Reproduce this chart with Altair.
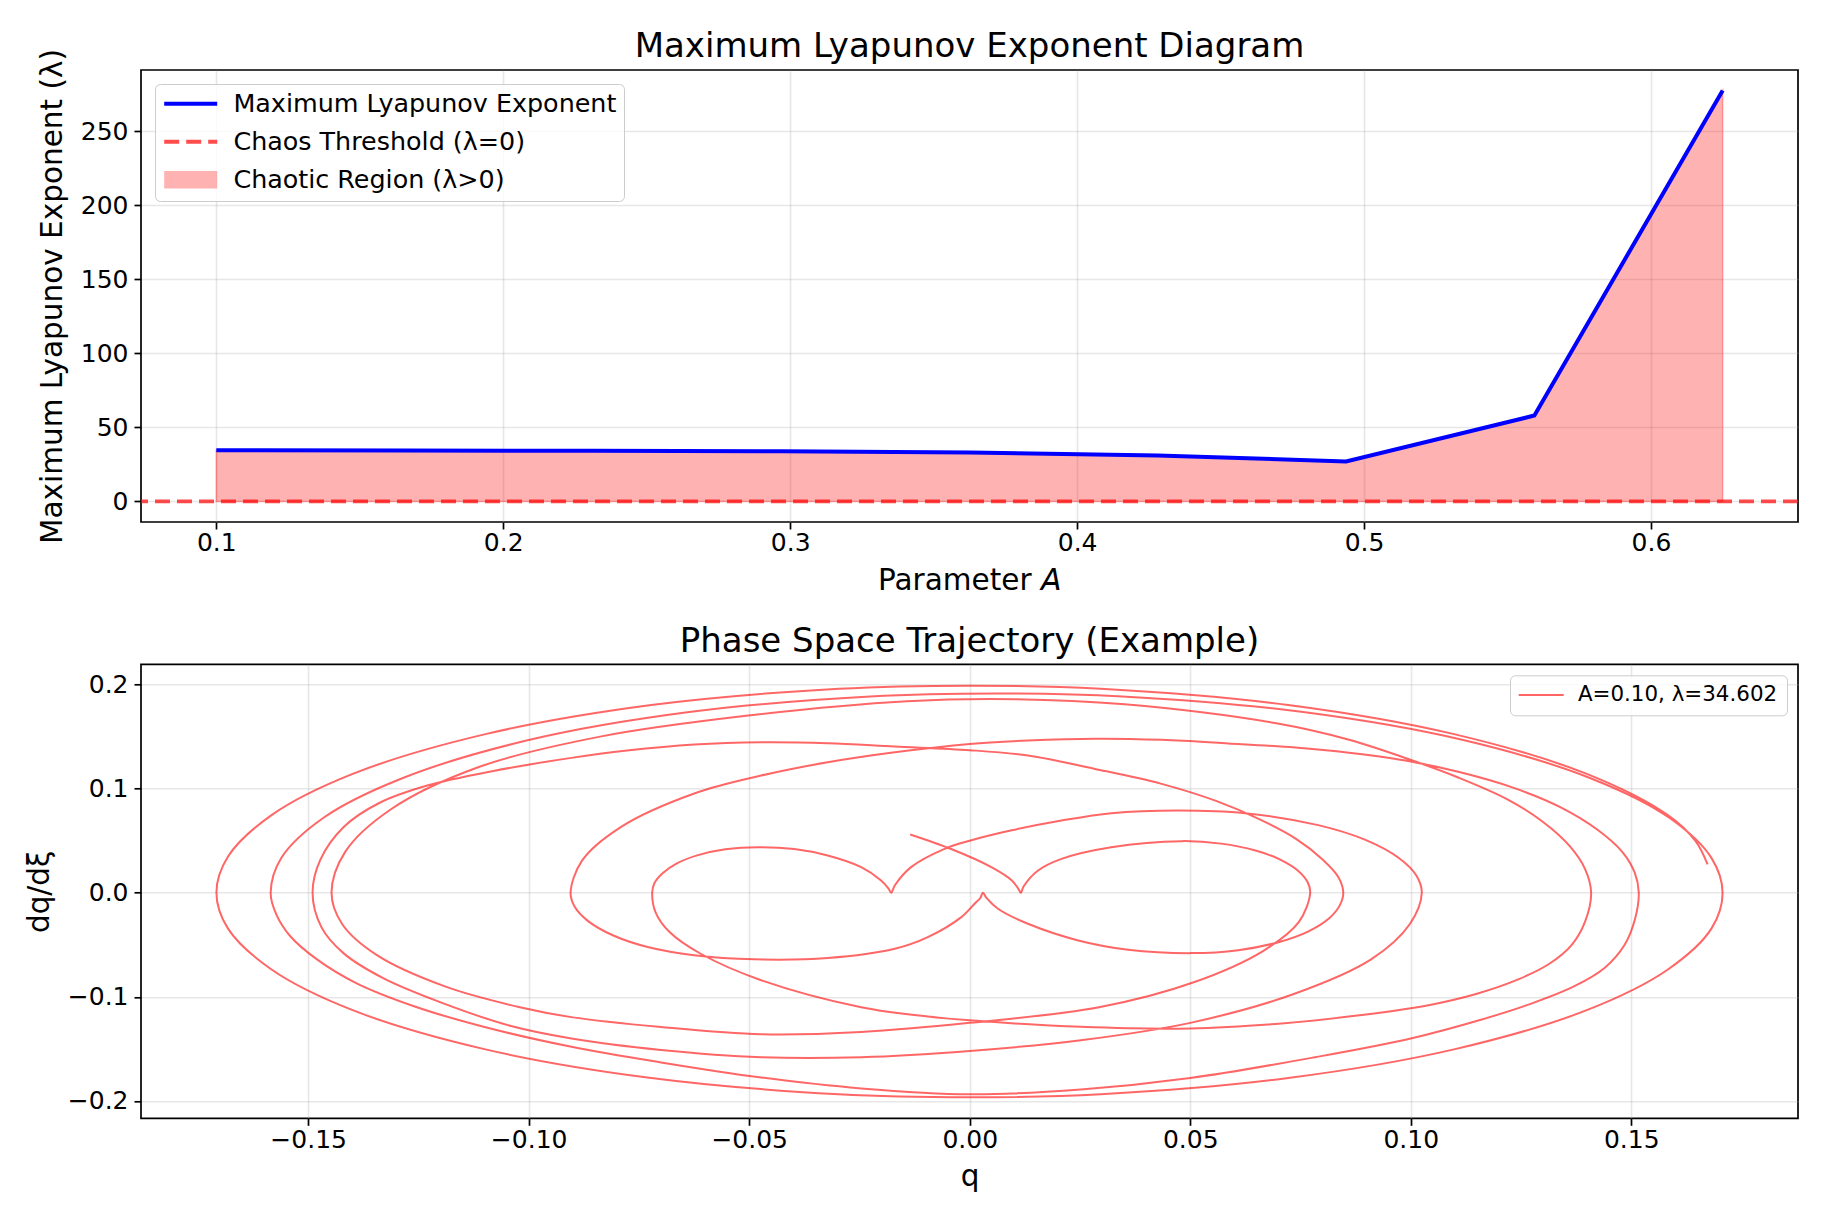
import altair as alt
import pandas as pd

FONT = "DejaVu Sans"

# ---------------- top panel data ----------------
A_values = [0.1, 0.165625, 0.23125, 0.296875, 0.3625, 0.428125, 0.49375, 0.559375, 0.625]
lyapunov_values = [34.6, 34.4, 34.2, 33.9, 33.0, 31.0, 27.0, 58.0, 277.5]
threshold_value = [0.0]
top_x_ticks = [0.1, 0.2, 0.3, 0.4, 0.5, 0.6]
top_y_ticks = [0, 50, 100, 150, 200, 250]

# ---------------- bottom panel data: trajectory (q, dq/dxi), in drawing order ----------------
seg_start = [(-0.0135, 0.0560), (-0.0042, 0.0420), (0.0049, 0.0246), (0.0095, 0.0120), (0.0110, 0.0040), (0.0116, 0.0000)]
seg_up_077 = [(0.0122, 0.0060), (0.0155, 0.0214), (0.0208, 0.0326), (0.0321, 0.0438), (0.0480, 0.0496), (0.0570, 0.0472),
              (0.0648, 0.0406), (0.0704, 0.0319), (0.0745, 0.0210), (0.0766, 0.0103), (0.0772, 0.0000)]
seg_lo_145 = [(0.0746, -0.0283), (0.0665, -0.0560), (0.0508, -0.0860), (0.0293, -0.1100), (0.0000, -0.1250),
              (-0.0246, -0.1338), (-0.0473, -0.1360), (-0.0700, -0.1290), (-0.0903, -0.1195), (-0.1020, -0.1100),
              (-0.1190, -0.0900), (-0.1344, -0.0600), (-0.1423, -0.0300), (-0.1447, 0.0000)]
seg_up_141 = [(-0.1416, 0.0393), (-0.1313, 0.0800), (-0.1113, 0.1208), (-0.0838, 0.1500), (-0.0507, 0.1700),
              (-0.0143, 0.1840), (0.0100, 0.1860), (0.0351, 0.1810), (0.0695, 0.1628), (0.0860, 0.1470),
              (0.0991, 0.1290), (0.1106, 0.1110), (0.1218, 0.0900), (0.1300, 0.0680), (0.1360, 0.0450),
              (0.1395, 0.0230), (0.1409, 0.0000)]
seg_lo_072 = [(0.1395, -0.0280), (0.1365, -0.0500), (0.1315, -0.0680), (0.1245, -0.0830), (0.1150, -0.0970),
              (0.1040, -0.1080), (0.0859, -0.1190), (0.0707, -0.1256), (0.0500, -0.1304), (0.0252, -0.1288),
              (0.0000, -0.1226), (-0.0095, -0.1190), (-0.0246, -0.1100), (-0.0473, -0.0840), (-0.0610, -0.0586),
              (-0.0680, -0.0380), (-0.0712, -0.0190), (-0.0720, 0.0000)]
seg_small_up = [(-0.0715, 0.0091), (-0.0697, 0.0185), (-0.0664, 0.0282), (-0.0618, 0.0359), (-0.0554, 0.0417),
                (-0.0480, 0.0438), (-0.0398, 0.0420), (-0.0322, 0.0358), (-0.0246, 0.0246), (-0.0201, 0.0118),
                (-0.0184, 0.0040), (-0.0178, 0.0000)]
seg_up_1025 = [(-0.0170, 0.0070), (-0.0133, 0.0246), (-0.0057, 0.0422), (0.0000, 0.0500), (0.0095, 0.0600),
               (0.0208, 0.0694), (0.0321, 0.0765), (0.0473, 0.0790), (0.0624, 0.0765), (0.0790, 0.0650),
               (0.0896, 0.0510), (0.0973, 0.0334), (0.1013, 0.0164), (0.1025, 0.0000)]
seg_lo_149 = [(0.0998, -0.0300), (0.0910, -0.0640), (0.0730, -0.0980), (0.0500, -0.1250), (0.0252, -0.1417),
              (0.0000, -0.1520), (-0.0246, -0.1580), (-0.0473, -0.1580), (-0.0700, -0.1510), (-0.0903, -0.1400),
              (-0.1040, -0.1280), (-0.1195, -0.1060), (-0.1330, -0.0820), (-0.1420, -0.0580), (-0.1470, -0.0330),
              (-0.1490, 0.0000)]
seg_up_0847 = [(-0.1472, 0.0320), (-0.1420, 0.0630), (-0.1340, 0.0860), (-0.1230, 0.1030), (-0.1080, 0.1170),
               (-0.0903, 0.1296), (-0.0777, 0.1366), (-0.0625, 0.1424), (-0.0473, 0.1446), (-0.0322, 0.1437),
               (-0.0170, 0.1405), (0.0000, 0.1370), (0.0132, 0.1318), (0.0284, 0.1190), (0.0435, 0.1046),
               (0.0560, 0.0880), (0.0660, 0.0700), (0.0739, 0.0520), (0.0800, 0.0320), (0.0836, 0.0150),
               (0.0847, 0.0000)]
seg_lo_cusp = [(0.0839, -0.0121), (0.0815, -0.0245), (0.0767, -0.0373), (0.0700, -0.0475), (0.0609, -0.0552),
               (0.0503, -0.0580), (0.0359, -0.0547), (0.0246, -0.0458), (0.0132, -0.0298), (0.0064, -0.0154),
               (0.0038, -0.0050), (0.0030, 0.0000)]
seg_lo_0905 = [(0.0024, -0.0050), (0.0011, -0.0106), (-0.0019, -0.0234), (-0.0095, -0.0426), (-0.0170, -0.0538),
               (-0.0322, -0.0627), (-0.0489, -0.0640), (-0.0625, -0.0600), (-0.0728, -0.0524), (-0.0808, -0.0411),
               (-0.0866, -0.0270), (-0.0896, -0.0133), (-0.0905, 0.0000)]
seg_up_1517 = [(-0.0879, 0.0309), (-0.0792, 0.0629), (-0.0623, 0.0956), (-0.0473, 0.1126), (-0.0322, 0.1254),
               (-0.0170, 0.1350), (0.0000, 0.1430), (0.0132, 0.1462), (0.0284, 0.1480), (0.0435, 0.1469),
               (0.0586, 0.1435), (0.0738, 0.1395), (0.0860, 0.1345), (0.0988, 0.1270), (0.1110, 0.1160),
               (0.1232, 0.1010), (0.1340, 0.0820), (0.1425, 0.0600), (0.1480, 0.0390), (0.1508, 0.0190),
               (0.1517, 0.0000)]
seg_lo_1585 = [(0.1508, -0.0260), (0.1485, -0.0500), (0.1440, -0.0720), (0.1370, -0.0900), (0.1270, -0.1070),
               (0.1159, -0.1220), (0.1000, -0.1400), (0.0783, -0.1580), (0.0500, -0.1780), (0.0252, -0.1890),
               (0.0000, -0.1936), (-0.0246, -0.1880), (-0.0473, -0.1775), (-0.0700, -0.1630), (-0.0903, -0.1480),
               (-0.1100, -0.1290), (-0.1260, -0.1090), (-0.1390, -0.0870), (-0.1480, -0.0640), (-0.1540, -0.0420),
               (-0.1572, -0.0210), (-0.1585, 0.0000)]
seg_up_1707 = [(-0.1561, 0.0333), (-0.1466, 0.0718), (-0.1288, 0.1098), (-0.1000, 0.1467), (-0.0636, 0.1736),
               (-0.0226, 0.1886), (0.0060, 0.1915), (0.0346, 0.1886), (0.0756, 0.1736), (0.1119, 0.1467),
               (0.1409, 0.1098), (0.1587, 0.0718), (0.1682, 0.0333), (0.1707, 0.0000)]
seg_lo_1708 = [(0.1682, -0.0342), (0.1583, -0.0737), (0.1399, -0.1128), (0.1098, -0.1505), (0.0722, -0.1780),
               (0.0297, -0.1936), (0.0000, -0.1965), (-0.0297, -0.1936), (-0.0722, -0.1780), (-0.1098, -0.1505),
               (-0.1399, -0.1128), (-0.1583, -0.0737), (-0.1682, -0.0342), (-0.1708, 0.0000)]
seg_up_end = [(-0.1682, 0.0346), (-0.1583, 0.0746), (-0.1399, 0.1142), (-0.1098, 0.1524), (-0.0722, 0.1804),
              (-0.0297, 0.1960), (0.0000, 0.1990), (0.0297, 0.1960), (0.0722, 0.1804), (0.1098, 0.1524),
              (0.1399, 0.1142), (0.1583, 0.0746), (0.1645, 0.0500), (0.1673, 0.0272)]

trajectory_segments = [seg_start, seg_up_077, seg_lo_145, seg_up_141, seg_lo_072, seg_small_up, seg_up_1025,
                       seg_lo_149, seg_up_0847, seg_lo_cusp, seg_lo_0905, seg_up_1517, seg_lo_1585,
                       seg_up_1707, seg_lo_1708, seg_up_end]

bottom_x_ticks = [-0.15, -0.10, -0.05, 0.0, 0.05, 0.10, 0.15]
bottom_y_ticks = [-0.2, -0.1, 0.0, 0.1, 0.2]

LINE_LABEL = "Maximum Lyapunov Exponent"
THRESH_LABEL = "Chaos Threshold (λ=0)"
FILL_LABEL = "Chaotic Region (λ>0)"
TRAJ_LABEL = "A=0.10, λ=34.602"
legend_labels = [LINE_LABEL, THRESH_LABEL, FILL_LABEL]

# legend glyphs (symbol units are 5 px with symbolSize=100)
LINE_GLYPH = "M-2.1,-0.4L8.5,-0.4L8.5,0.4L-2.1,0.4Z"
DASH_GLYPH = ("M-2.1,-0.4L0.9,-0.4L0.9,0.4L-2.1,0.4Z "
              "M2.3,-0.4L5.3,-0.4L5.3,0.4L2.3,0.4Z "
              "M6.7,-0.4L8.5,-0.4L8.5,0.4L6.7,0.4Z")
FILL_GLYPH = "M-2.1,-1.75L8.5,-1.75L8.5,1.75L-2.1,1.75Z"

# ---------------- top panel ----------------
top_df = pd.DataFrame({"A": A_values, "lam": lyapunov_values})
thresh_df = pd.DataFrame({"lam": threshold_value})
legend_df = pd.DataFrame({"series": legend_labels})

x_top = alt.X(
    "A:Q",
    scale=alt.Scale(domain=[0.07375, 0.65125], nice=False, zero=False),
    axis=alt.Axis(title="Parameter 𝘈", values=top_x_ticks, format=".1f",
                  labelPadding=1, titlePadding=11),
)
y_top = alt.Y(
    "lam:Q",
    scale=alt.Scale(domain=[-13.9, 291.4], nice=False, zero=False),
    axis=alt.Axis(title="Maximum Lyapunov Exponent (λ)", values=top_y_ticks, format="d",
                  titlePadding=13),
)

area = alt.Chart(top_df).mark_area(
    fill="red", fillOpacity=0.3, stroke="red", strokeOpacity=0.3, strokeWidth=1.5
).encode(x=x_top, y=y_top, y2=alt.datum(0))

line = alt.Chart(top_df).mark_line(color="blue", strokeWidth=4).encode(x=x_top, y=y_top)

rule = alt.Chart(thresh_df).mark_rule(
    color="red", strokeDash=[15, 7], strokeWidth=3.8, opacity=0.7
).encode(y=alt.Y("lam:Q"))

top_legend = alt.Legend(
    title=None, orient="top-left", offset=14, padding=7, rowPadding=11,
    labelFont=FONT, labelFontSize=25.4, labelColor="black", labelLimit=2000,
    labelOffset=46, symbolSize=100, symbolOpacity=1,
    symbolStrokeWidth=0, symbolStrokeColor="transparent",
    strokeColor="#cccccc", fillColor="rgba(255,255,255,0.8)", cornerRadius=5,
)

legend_layer = alt.Chart(legend_df).mark_point(filled=True, opacity=1).encode(
    color=alt.Color(
        "series:N",
        scale=alt.Scale(domain=legend_labels,
                        range=["blue", "rgba(255,0,0,0.7)", "rgba(255,0,0,0.3)"]),
        legend=top_legend,
    ),
    shape=alt.Shape(
        "series:N",
        scale=alt.Scale(domain=legend_labels, range=[LINE_GLYPH, DASH_GLYPH, FILL_GLYPH]),
        legend=top_legend,
    ),
).transform_filter("false")

top = alt.layer(area, line, rule, legend_layer).properties(
    width=1657, height=452,
    title=alt.TitleParams("Maximum Lyapunov Exponent Diagram", offset=-15),
)

# ---------------- bottom panel ----------------
traj_points = [pt for seg in trajectory_segments for pt in seg]
traj_df = pd.DataFrame({
    "q": [pt[0] for pt in traj_points],
    "p": [pt[1] for pt in traj_points],
    "order": list(range(len(traj_points))),
    "series": TRAJ_LABEL,
})

bottom_legend = alt.Legend(
    title=None, orient="top-right", offset=11, padding=9,
    labelFont=FONT, labelFontSize=21.4, labelColor="black", labelLimit=2000,
    labelOffset=37.5, symbolSize=100, symbolType="M-2.2,0L6.8,0",
    symbolStrokeWidth=2, symbolOpacity=0.6,
    strokeColor="#cccccc", fillColor="rgba(255,255,255,0.8)", cornerRadius=5,
)

traj = alt.Chart(traj_df).mark_line(
    interpolate="catmull-rom", strokeWidth=2, opacity=0.6
).encode(
    x=alt.X(
        "q:Q",
        scale=alt.Scale(domain=[-0.1879, 0.1878], nice=False, zero=False),
        axis=alt.Axis(title="q", values=bottom_x_ticks, format=".2f",
                      labelPadding=2, titlePadding=10),
    ),
    y=alt.Y(
        "p:Q",
        scale=alt.Scale(domain=[-0.2167, 0.2195], nice=False, zero=False),
        axis=alt.Axis(title="dq/dξ", values=bottom_y_ticks, format=".1f", titlePadding=13),
    ),
    order="order:Q",
    color=alt.Color("series:N", scale=alt.Scale(domain=[TRAJ_LABEL], range=["red"]),
                    legend=bottom_legend),
)

bottom = traj.properties(
    width=1657, height=454,
    title=alt.TitleParams("Phase Space Trajectory (Example)", offset=5),
)

chart = (
    alt.vconcat(top, bottom, spacing=142.3, bounds="flush")
    .resolve_scale(color="independent", shape="independent")
    .resolve_legend(color="independent", shape="independent")
    .properties(padding={"left": 15, "top": 20, "right": 5, "bottom": 5})
    .configure_axis(
        labelFont=FONT, titleFont=FONT, labelFontSize=25, titleFontSize=29.5,
        titleFontWeight="normal", labelColor="black", titleColor="black",
        tickColor="black", tickSize=7, tickWidth=1.7, labelPadding=6, titlePadding=7,
        domain=False, grid=True, gridColor="#b0b0b0", gridOpacity=0.3, gridWidth=1.6,
    )
    .configure_view(stroke="black", strokeWidth=1.7)
    .configure_title(
        font=FONT, fontSize=34, fontWeight="normal", color="black",
        anchor="middle", baseline="alphabetic",
    )
)

chart.save("out.html", embed_options={"renderer": "svg", "actions": False})
